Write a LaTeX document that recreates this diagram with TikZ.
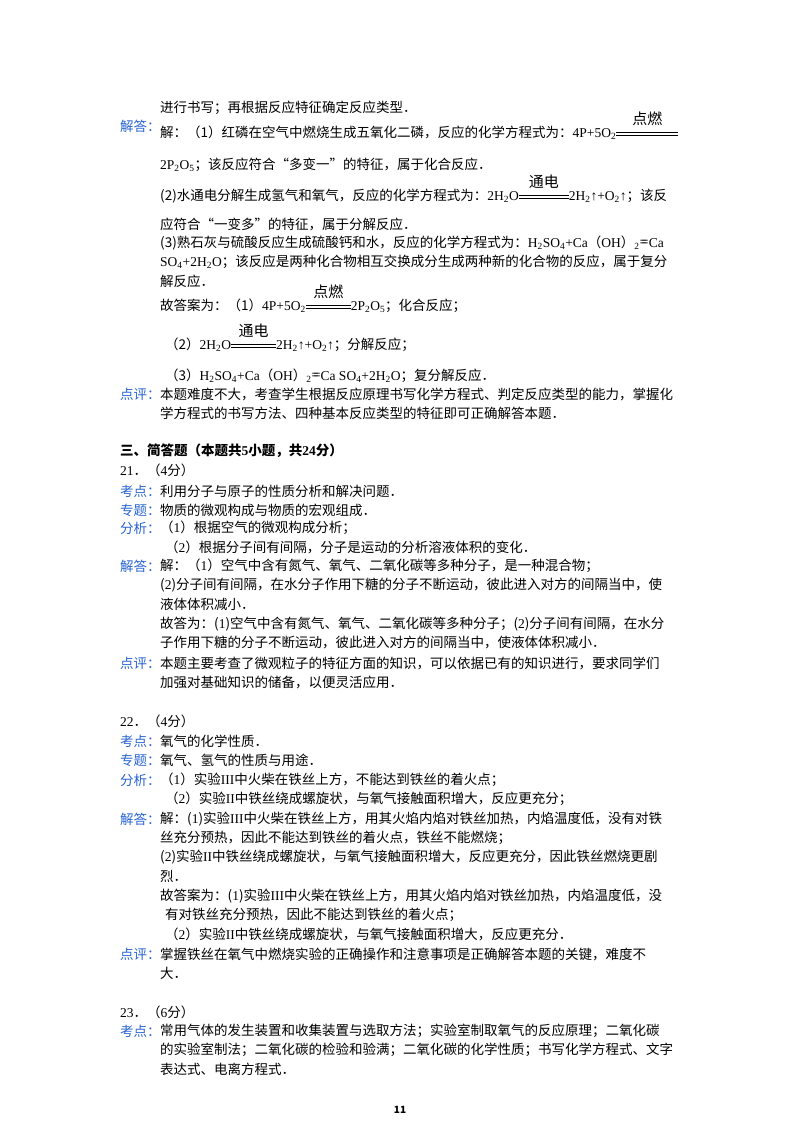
\documentclass[tikz,border=0pt]{standalone}
\usepackage{fontspec}
\setmainfont{Noto Sans CJK SC}
\newfontfamily\lat{Liberation Serif}
\definecolor{lblue}{RGB}{40,100,210}
\newcommand{\Ls}[1]{{\lat #1}}
\newcommand{\sub}[1]{\textsubscript{\lat #1}}
\newcommand{\dbl}[1]{\raisebox{0.3ex}{\rule{#1}{0.5pt}}\llap{\raisebox{0.65ex}{\rule{#1}{0.5pt}}}}
\newcommand{\cond}[2]{\raisebox{0pt}[0pt][0pt]{\makebox[0pt][l]{\makebox[#2][c]{\raisebox{0.95em}{\fontsize{15}{15}\selectfont #1}}}}\dbl{#2}}
\newcommand{\dbleq}{\raisebox{0.15ex}{\lat =}\hspace{-0.45em}\raisebox{0.15ex}{\lat =}}
\tikzset{tx/.style={anchor=west,inner sep=0pt,font=\fontsize{13.5}{14}\selectfont},
 lb/.style={tx,text=lblue}}
\begin{document}
\begin{tikzpicture}[x=1pt,y=-1pt]
\useasboundingbox[fill=white] (0,0) rectangle (800,1132);
\node[tx] (l1) at (160,108) {进行书写；再根据反应特征确定反应类型．};
\node[lb] (a1) at (120,126) {解答：};
\node[tx] (l2) at (160,133) {解：（1）红磷在空气中燃烧生成五氧化二磷，反应的化学方程式为：\Ls{4P+5O}\sub{2}\cond{点燃}{62pt}};
\node[tx] (l3) at (160,165) {\Ls{2P}\sub{2}\Ls{O}\sub{5}；该反应符合“多变一”的特征，属于化合反应．};
\node[tx] (l4) at (160,196) {(2)水通电分解生成氢气和氧气，反应的化学方程式为：\Ls{2H}\sub{2}\Ls{O}\cond{通电}{50pt}\Ls{2H}\sub{2}\Ls{↑+O}\sub{2}\Ls{↑}；该反};
\node[tx] (l5) at (160,224) {应符合“一变多”的特征，属于分解反应．};
\node[tx] (l6) at (160,243) {(3)熟石灰与硫酸反应生成硫酸钙和水，反应的化学方程式为：\Ls{H}\sub{2}\Ls{SO}\sub{4}\Ls{+Ca}（\Ls{OH}）\sub{2}\dbleq\Ls{Ca}};
\node[tx] (l7) at (160,262) {\Ls{SO}\sub{4}\Ls{+2H}\sub{2}\Ls{O}；该反应是两种化合物相互交换成分生成两种新的化合物的反应，属于复分};
\node[tx] (l8) at (160,281) {解反应．};
\node[tx] (l9) at (160,306) {故答案为：（1）\Ls{4P+5O}\sub{2}\cond{点燃}{45pt}\Ls{2P}\sub{2}\Ls{O}\sub{5}；化合反应；};
\node[tx] (l10) at (165,345) {（2）\Ls{2H}\sub{2}\Ls{O}\cond{通电}{45pt}\Ls{2H}\sub{2}\Ls{↑+O}\sub{2}\Ls{↑}；分解反应；};
\node[tx] (l11) at (165,376) {（3）\Ls{H}\sub{2}\Ls{SO}\sub{4}\Ls{+Ca}（\Ls{OH}）\sub{2}\dbleq\Ls{Ca SO}\sub{4}\Ls{+2H}\sub{2}\Ls{O}；复分解反应．};
\node[lb] (p1) at (120,394) {点评：};
\node[tx] (l12) at (160,394) {本题难度不大，考查学生根据反应原理书写化学方程式、判定反应类型的能力，掌握化};
\node[tx] (l13) at (160,413) {学方程式的书写方法、四种基本反应类型的特征即可正确解答本题．};
\node[tx,font=\fontsize{13.5}{14}\selectfont\bfseries] (h3) at (120,451) {三、简答题（本题共\Ls{\textbf{5}}小题，共\Ls{\textbf{24}}分）};
% 21
\node[tx] (q21) at (120,470) {\Ls{21}．（\Ls{4}分）};
\node[lb] (k21) at (120,491) {考点：};
\node[tx] at (160,491) {利用分子与原子的性质分析和解决问题．};
\node[lb] (z21) at (120,510) {专题：};
\node[tx] at (160,510) {物质的微观构成与物质的宏观组成．};
\node[lb] (f21) at (120,528) {分析：};
\node[tx] at (160,528) {（\Ls{1}）根据空气的微观构成分析；};
\node[tx] at (165,547) {（\Ls{2}）根据分子间有间隔，分子是运动的分析溶液体积的变化．};
\node[lb] (j21) at (120,566) {解答：};
\node[tx] at (160,566) {解：（\Ls{1}）空气中含有氮气、氧气、二氧化碳等多种分子，是一种混合物；};
\node[tx] at (160,585) {(\Ls{2})分子间有间隔，在水分子作用下糖的分子不断运动，彼此进入对方的间隔当中，使};
\node[tx] at (160,604) {液体体积减小．};
\node[tx] at (160,624) {故答为：(\Ls{1})空气中含有氮气、氧气、二氧化碳等多种分子；(\Ls{2})分子间有间隔，在水分};
\node[tx] at (160,643) {子作用下糖的分子不断运动，彼此进入对方的间隔当中，使液体体积减小．};
\node[lb] (d21) at (120,663) {点评：};
\node[tx] at (160,663) {本题主要考查了微观粒子的特征方面的知识，可以依据已有的知识进行，要求同学们};
\node[tx] at (160,682) {加强对基础知识的储备，以便灵活应用．};
% 22
\node[tx] (q22) at (120,721) {\Ls{22}．（\Ls{4}分）};
\node[lb] at (120,741) {考点：};
\node[tx] at (160,741) {氧气的化学性质．};
\node[lb] at (120,760) {专题：};
\node[tx] at (160,760) {氧气、氢气的性质与用途．};
\node[lb] at (120,780) {分析：};
\node[tx] at (160,780) {（\Ls{1}）实验\Ls{III}中火柴在铁丝上方，不能达到铁丝的着火点；};
\node[tx] at (165,799) {（\Ls{2}）实验\Ls{II}中铁丝绕成螺旋状，与氧气接触面积增大，反应更充分；};
\node[lb] at (120,819) {解答：};
\node[tx] at (160,819) {解：(\Ls{1})实验\Ls{III}中火柴在铁丝上方，用其火焰内焰对铁丝加热，内焰温度低，没有对铁};
\node[tx] at (160,838) {丝充分预热，因此不能达到铁丝的着火点，铁丝不能燃烧；};
\node[tx] at (160,857) {(\Ls{2})实验\Ls{II}中铁丝绕成螺旋状，与氧气接触面积增大，反应更充分，因此铁丝燃烧更剧};
\node[tx] at (160,876) {烈．};
\node[tx] at (160,896) {故答案为：(\Ls{1})实验\Ls{III}中火柴在铁丝上方，用其火焰内焰对铁丝加热，内焰温度低，没};
\node[tx] at (165,915) {有对铁丝充分预热，因此不能达到铁丝的着火点；};
\node[tx] at (165,934) {（\Ls{2}）实验\Ls{II}中铁丝绕成螺旋状，与氧气接触面积增大，反应更充分．};
\node[lb] at (120,954) {点评：};
\node[tx] at (160,954) {掌握铁丝在氧气中燃烧实验的正确操作和注意事项是正确解答本题的关键，难度不};
\node[tx] at (160,973) {大．};
% 23
\node[tx] (q23) at (120,1012) {\Ls{23}．（\Ls{6}分）};
\node[lb] at (120,1031) {考点：};
\node[tx] at (160,1031) {常用气体的发生装置和收集装置与选取方法；实验室制取氧气的反应原理；二氧化碳};
\node[tx] at (160,1050) {的实验室制法；二氧化碳的检验和验满；二氧化碳的化学性质；书写化学方程式、文字};
\node[tx] at (160,1069) {表达式、电离方程式．};
\node[anchor=center,font=\fontsize{10}{10}\selectfont\bfseries] (pg) at (400,1110) {11};
\end{tikzpicture}
\end{document}
